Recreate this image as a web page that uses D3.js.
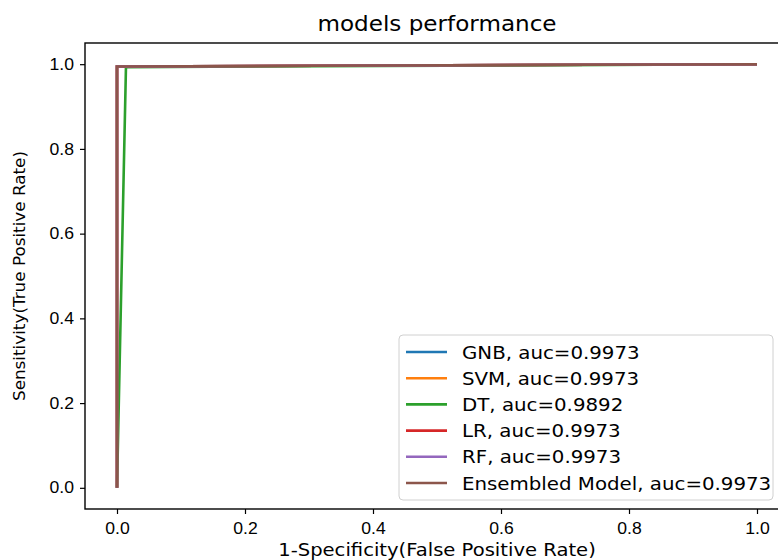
<!DOCTYPE html>
<html>
<head>
<meta charset="utf-8">
<script src="https://cdn.jsdelivr.net/npm/d3@7"></script>
<style>
  body { margin: 0; background: #fff; }
  svg { display: block; font-family: "DejaVu Sans", sans-serif; }
</style>
</head>
<body>
<svg id="chart" width="778" height="560"></svg>
<script>
// roc curves (fpr, tpr)
const modelNames = ["GNB", "SVM", "DT", "LR", "RF", "Ensembled Model"]
const modelAuc = ["0.9973", "0.9973", "0.9892", "0.9973", "0.9973", "0.9973"]
const rocFpr = [
    [0, 0, 1],
    [0, 0, 1],
    [0, 0.014, 1],
    [0, 0, 1],
    [0, 0, 1],
    [0, 0, 1]
]
const rocTpr = [
    [0, 0.9946, 1],
    [0, 0.9946, 1],
    [0, 0.993, 1],
    [0, 0.9946, 1],
    [0, 0.9946, 1],
    [0, 0.9946, 1]
]
const tickValues = [0, 0.2, 0.4, 0.6, 0.8, 1.0]
const colors = ["#1f77b4", "#ff7f0e", "#2ca02c", "#d62728", "#9467bd", "#8c564b"]

const margin = { left: 85, top: 43, right: 789, bottom: 509 }
const stretch = 1.1   // the reference text is a bit wider than plain DejaVu

let svg = d3.select('#chart')

let x = d3.scaleLinear().domain([-0.05, 1.05]).range([margin.left, margin.right])
let y = d3.scaleLinear().domain([-0.05, 1.05]).range([margin.bottom, margin.top])

let line = d3.line().x(d => x(d[0])).y(d => y(d[1]))

function addText(parent, px, py, str, size, anchor) {
    return parent.append("text")
        .attr("transform", "translate(" + px + "," + py + ") scale(" + stretch + ",1)")
        .attr("text-anchor", anchor || "start")
        .style("font-size", size + "px")
        .attr("fill", "#000")
        .text(str)
}

// curves
for (let i = 0; i < modelNames.length; i++) {
    let pts = rocFpr[i].map((f, j) => [f, rocTpr[i][j]])
    svg.append("path")
        .attr("d", line(pts))
        .attr("fill", "none")
        .attr("stroke", colors[i])
        .attr("stroke-width", 2.6)
}

// axes
let xAxis = svg.append("g")
    .attr("transform", "translate(0," + margin.bottom + ")")
    .call(d3.axisBottom(x).tickValues(tickValues).tickFormat(d3.format(".1f")).tickSize(5).tickPadding(9))
let yAxis = svg.append("g")
    .attr("transform", "translate(" + margin.left + ",0)")
    .call(d3.axisLeft(y).tickValues(tickValues).tickFormat(d3.format(".1f")).tickSize(5).tickPadding(6))

for (let ax of [xAxis, yAxis]) {
    ax.select(".domain").remove()
    ax.selectAll("line").attr("stroke", "#000").attr("stroke-width", 1.2)
    ax.selectAll("text").style("font-size", "16px").attr("fill", "#000")
}
xAxis.selectAll("text").attr("transform", "scale(" + stretch + ",1)")
yAxis.selectAll("text").attr("transform", "translate(-11,0) scale(" + stretch + ",1) translate(11,0)")

// frame
svg.append("rect")
    .attr("x", margin.left)
    .attr("y", margin.top)
    .attr("width", margin.right - margin.left)
    .attr("height", margin.bottom - margin.top)
    .attr("fill", "none")
    .attr("stroke", "#000")
    .attr("stroke-width", 1.4)

// title and labels
addText(svg, (margin.left + margin.right) / 2, 31, "models performance", 21, "middle")
addText(svg, (margin.left + margin.right) / 2, 556, "1-Specificity(False Positive Rate)", 17.8, "middle")

svg.append("text")
    .attr("transform", "translate(25," + (margin.top + margin.bottom) / 2 + ") rotate(-90) scale(1.05,1)")
    .attr("text-anchor", "middle")
    .style("font-size", "16px")
    .text("Sensitivity(True Positive Rate)")

// legend
let legend = svg.append("g").attr("transform", "translate(399,335)")
legend.append("rect")
    .attr("width", 374)
    .attr("height", 165)
    .attr("rx", 4)
    .attr("fill", "#fff")
    .attr("fill-opacity", 0.8)
    .attr("stroke", "#d0d0d0")

for (let i = 0; i < modelNames.length; i++) {
    let cy = 17 + i * 26.2
    legend.append("line")
        .attr("x1", 7).attr("x2", 48)
        .attr("y1", cy).attr("y2", cy)
        .attr("stroke", colors[i])
        .attr("stroke-width", 2.6)
    addText(legend, 63, cy + 6.5, modelNames[i] + ", auc=" + modelAuc[i], 18)
}
</script>
</body>
</html>
